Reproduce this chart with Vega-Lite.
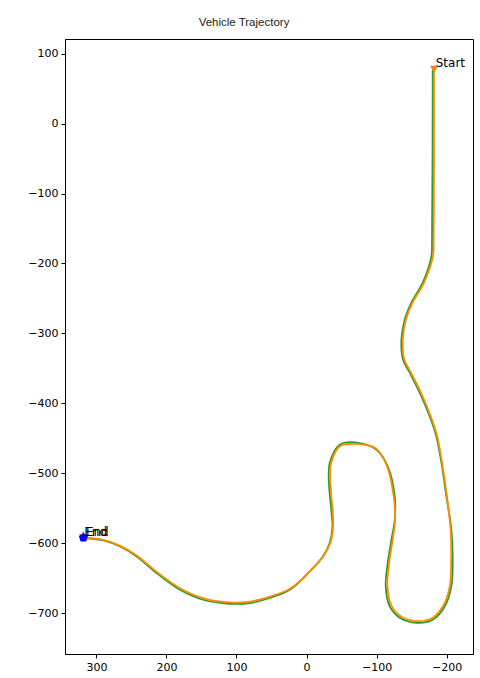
{
  "$schema": "https://vega.github.io/schema/vega-lite/v6.json",
  "width": 408,
  "height": 615,
  "autosize": {"type": "none"},
  "padding": {"left": 65, "top": 39, "right": 7, "bottom": 24},
  "background": "white",
  "title": {
    "text": "Vehicle Trajectory",
    "font": "Liberation Sans",
    "fontSize": 11.5,
    "fontWeight": "normal",
    "color": "#222222",
    "anchor": "middle",
    "dx": -25,
    "offset": 2,
    "baseline": "alphabetic"
  },
  "config": {
    "view": {"stroke": "black", "strokeWidth": 1},
    "axis": {
      "grid": false,
      "domainColor": "black",
      "tickColor": "black",
      "tickSize": 4,
      "labelFont": "DejaVu Sans",
      "labelFontSize": 11,
      "labelColor": "black",
      "labelPadding": 3,
      "title": null
    }
  },
  "datasets": {
    "traj": [
      {"s": "gt", "i": 1, "x": -180.2, "y": 77.3},
      {"s": "gt", "i": 2, "x": -179.2, "y": -166.0},
      {"s": "gt", "i": 3, "x": -178.3, "y": -189.8},
      {"s": "gt", "i": 4, "x": -165.9, "y": -227.5},
      {"s": "gt", "i": 5, "x": -149.8, "y": -256.1},
      {"s": "gt", "i": 6, "x": -140.2, "y": -280.4},
      {"s": "gt", "i": 7, "x": -135.5, "y": -309.0},
      {"s": "gt", "i": 8, "x": -137.8, "y": -337.6},
      {"s": "gt", "i": 9, "x": -147.4, "y": -356.2},
      {"s": "gt", "i": 10, "x": -161.6, "y": -384.8},
      {"s": "gt", "i": 11, "x": -175.9, "y": -418.7},
      {"s": "gt", "i": 12, "x": -185.4, "y": -447.4},
      {"s": "gt", "i": 13, "x": -192.6, "y": -485.0},
      {"s": "gt", "i": 14, "x": -199.7, "y": -533.2},
      {"s": "gt", "i": 15, "x": -206.8, "y": -580.8},
      {"s": "gt", "i": 16, "x": -208.7, "y": -628.0},
      {"s": "gt", "i": 17, "x": -206.8, "y": -661.9},
      {"s": "gt", "i": 18, "x": -197.3, "y": -690.6},
      {"s": "gt", "i": 19, "x": -180.2, "y": -709.6},
      {"s": "gt", "i": 20, "x": -156.9, "y": -713.9},
      {"s": "gt", "i": 21, "x": -133.1, "y": -706.7},
      {"s": "gt", "i": 22, "x": -118.8, "y": -690.6},
      {"s": "gt", "i": 23, "x": -113.1, "y": -661.9},
      {"s": "gt", "i": 24, "x": -116.0, "y": -628.0},
      {"s": "gt", "i": 25, "x": -121.3, "y": -595.1},
      {"s": "gt", "i": 26, "x": -126.0, "y": -566.5},
      {"s": "gt", "i": 27, "x": -126.0, "y": -533.2},
      {"s": "gt", "i": 28, "x": -116.0, "y": -490.3},
      {"s": "gt", "i": 29, "x": -99.9, "y": -466.4},
      {"s": "gt", "i": 30, "x": -68.9, "y": -455.9},
      {"s": "gt", "i": 31, "x": -47.5, "y": -459.2},
      {"s": "gt", "i": 32, "x": -33.2, "y": -485.0},
      {"s": "gt", "i": 33, "x": -31.8, "y": -509.3},
      {"s": "gt", "i": 34, "x": -35.7, "y": -556.5},
      {"s": "gt", "i": 35, "x": -37.1, "y": -576.1},
      {"s": "gt", "i": 36, "x": -33.2, "y": -599.4},
      {"s": "gt", "i": 37, "x": -23.3, "y": -619.0},
      {"s": "gt", "i": 38, "x": -4.7, "y": -640.5},
      {"s": "gt", "i": 39, "x": 23.8, "y": -666.7},
      {"s": "gt", "i": 40, "x": 52.4, "y": -678.5},
      {"s": "gt", "i": 41, "x": 80.9, "y": -685.7},
      {"s": "gt", "i": 42, "x": 109.4, "y": -686.7},
      {"s": "gt", "i": 43, "x": 147.5, "y": -681.0},
      {"s": "gt", "i": 44, "x": 180.7, "y": -666.7},
      {"s": "gt", "i": 45, "x": 214.0, "y": -642.8},
      {"s": "gt", "i": 46, "x": 242.5, "y": -619.0},
      {"s": "gt", "i": 47, "x": 266.3, "y": -604.7},
      {"s": "gt", "i": 48, "x": 290.2, "y": -596.1},
      {"s": "gt", "i": 49, "x": 318.7, "y": -592.7},
      {"s": "pred", "i": 1, "x": -182.0, "y": 78.0},
      {"s": "pred", "i": 2, "x": -181.5, "y": -166.0},
      {"s": "pred", "i": 3, "x": -180.5, "y": -190.0},
      {"s": "pred", "i": 4, "x": -167.5, "y": -228.0},
      {"s": "pred", "i": 5, "x": -151.5, "y": -256.0},
      {"s": "pred", "i": 6, "x": -142.0, "y": -280.0},
      {"s": "pred", "i": 7, "x": -137.5, "y": -309.0},
      {"s": "pred", "i": 8, "x": -139.5, "y": -337.0},
      {"s": "pred", "i": 9, "x": -149.0, "y": -356.0},
      {"s": "pred", "i": 10, "x": -163.0, "y": -384.0},
      {"s": "pred", "i": 11, "x": -177.0, "y": -418.0},
      {"s": "pred", "i": 12, "x": -186.5, "y": -447.0},
      {"s": "pred", "i": 13, "x": -193.5, "y": -485.0},
      {"s": "pred", "i": 14, "x": -200.5, "y": -533.0},
      {"s": "pred", "i": 15, "x": -205.8, "y": -581.0},
      {"s": "pred", "i": 16, "x": -206.5, "y": -628.0},
      {"s": "pred", "i": 17, "x": -204.8, "y": -660.5},
      {"s": "pred", "i": 18, "x": -195.8, "y": -688.5},
      {"s": "pred", "i": 19, "x": -179.7, "y": -707.0},
      {"s": "pred", "i": 20, "x": -157.0, "y": -711.5},
      {"s": "pred", "i": 21, "x": -134.5, "y": -704.5},
      {"s": "pred", "i": 22, "x": -121.0, "y": -689.0},
      {"s": "pred", "i": 23, "x": -115.5, "y": -661.5},
      {"s": "pred", "i": 24, "x": -118.0, "y": -628.0},
      {"s": "pred", "i": 25, "x": -123.0, "y": -595.0},
      {"s": "pred", "i": 26, "x": -126.5, "y": -566.5},
      {"s": "pred", "i": 27, "x": -124.5, "y": -533.0},
      {"s": "pred", "i": 28, "x": -114.5, "y": -489.0},
      {"s": "pred", "i": 29, "x": -99.0, "y": -464.5},
      {"s": "pred", "i": 30, "x": -68.9, "y": -458.0},
      {"s": "pred", "i": 31, "x": -48.0, "y": -461.0},
      {"s": "pred", "i": 32, "x": -35.0, "y": -486.0},
      {"s": "pred", "i": 33, "x": -33.8, "y": -509.5},
      {"s": "pred", "i": 34, "x": -37.5, "y": -556.0},
      {"s": "pred", "i": 35, "x": -38.0, "y": -576.0},
      {"s": "pred", "i": 36, "x": -34.5, "y": -598.5},
      {"s": "pred", "i": 37, "x": -24.5, "y": -618.0},
      {"s": "pred", "i": 38, "x": -6.0, "y": -639.0},
      {"s": "pred", "i": 39, "x": 23.0, "y": -665.0},
      {"s": "pred", "i": 40, "x": 52.0, "y": -676.5},
      {"s": "pred", "i": 41, "x": 81.0, "y": -683.7},
      {"s": "pred", "i": 42, "x": 109.5, "y": -684.7},
      {"s": "pred", "i": 43, "x": 147.0, "y": -679.0},
      {"s": "pred", "i": 44, "x": 180.0, "y": -665.0},
      {"s": "pred", "i": 45, "x": 213.5, "y": -641.5},
      {"s": "pred", "i": 46, "x": 242.0, "y": -618.0},
      {"s": "pred", "i": 47, "x": 266.0, "y": -604.0},
      {"s": "pred", "i": 48, "x": 290.0, "y": -595.5},
      {"s": "pred", "i": 49, "x": 318.5, "y": -592.3}
    ],
    "labels": [
      {"label": "Start", "x": -180.2, "y": 78.0, "k": "a"},
      {"label": "End", "x": 318.7, "y": -592.7, "k": "b"},
      {"label": "End", "x": 318.5, "y": -592.3, "k": "c"}
    ]
  },
  "encoding": {
    "x": {
      "field": "x",
      "type": "quantitative",
      "scale": {"domain": [-237.7, 344.8], "reverse": true, "nice": false, "zero": false},
      "axis": {"values": [300, 200, 100, 0, -100, -200]}
    },
    "y": {
      "field": "y",
      "type": "quantitative",
      "scale": {"domain": [-758.6, 121], "nice": false, "zero": false},
      "axis": {"values": [100, 0, -100, -200, -300, -400, -500, -600, -700]}
    }
  },
  "layer": [
    {
      "data": {"name": "traj"},
      "mark": {"type": "line", "interpolate": "catmull-rom", "strokeWidth": 1.8},
      "encoding": {
        "order": {"field": "i", "type": "quantitative"},
        "color": {
          "field": "s",
          "type": "nominal",
          "scale": {"domain": ["gt", "pred"], "range": ["#2a9a2a", "#ff8c00"]},
          "legend": null
        }
      }
    },
    {
      "data": {"name": "traj"},
      "transform": [{"filter": "datum.s === 'gt' && datum.i === 49"}],
      "mark": {
        "type": "point",
        "filled": true,
        "color": "red",
        "opacity": 1,
        "size": 100,
        "shape": "M0,-1L0.2245,-0.309L0.951,-0.309L0.363,0.118L0.588,0.809L0,0.382L-0.588,0.809L-0.363,0.118L-0.951,-0.309L-0.2245,-0.309Z",
        "yOffset": -2
      }
    },
    {
      "data": {"name": "traj"},
      "transform": [{"filter": "datum.s === 'pred' && datum.i === 49"}],
      "mark": {
        "type": "point",
        "filled": true,
        "color": "blue",
        "opacity": 1,
        "size": 90,
        "shape": "M0,-1L0.951,-0.309L0.588,0.809L-0.588,0.809L-0.951,-0.309Z"
      }
    },
    {
      "data": {"name": "traj"},
      "transform": [{"filter": "datum.s === 'pred' && datum.i === 1"}],
      "mark": {
        "type": "point",
        "filled": true,
        "color": "#ff7f0e",
        "opacity": 1,
        "size": 60,
        "shape": "triangle-down"
      }
    },
    {
      "data": {"name": "labels"},
      "transform": [{"filter": "datum.k === 'a'"}],
      "mark": {"type": "text", "align": "left", "baseline": "alphabetic", "dx": 3, "dy": -2, "font": "DejaVu Sans", "fontSize": 12, "color": "black"},
      "encoding": {"text": {"field": "label"}}
    },
    {
      "data": {"name": "labels"},
      "transform": [{"filter": "datum.k === 'b'"}],
      "mark": {"type": "text", "align": "left", "baseline": "alphabetic", "dx": 1, "dy": -2, "font": "DejaVu Sans", "fontSize": 12, "color": "black"},
      "encoding": {"text": {"field": "label"}}
    },
    {
      "data": {"name": "labels"},
      "transform": [{"filter": "datum.k === 'c'"}],
      "mark": {"type": "text", "align": "left", "baseline": "alphabetic", "dx": 2.5, "dy": -2, "font": "DejaVu Sans", "fontSize": 12, "color": "black"},
      "encoding": {"text": {"field": "label"}}
    }
  ]
}
